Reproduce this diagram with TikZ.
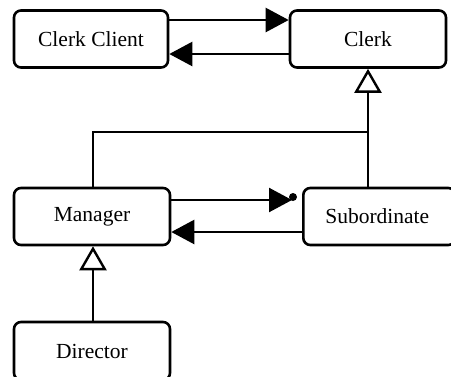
\documentclass[tikz,border=0pt]{standalone}
\usepackage{fontspec}
\setmainfont{Liberation Serif}
\usetikzlibrary{arrows.meta}
\begin{document}
\begin{tikzpicture}[x=1pt,y=-1pt,
  cls/.style={draw, line width=2.6pt, rounded corners=7pt, fill=white, inner sep=0pt,
    font=\fontsize{21.5}{25}\selectfont, minimum height=57pt},
  conn/.style={line width=2.4pt},
  usearrow/.style={conn, -{Triangle[length=23pt,width=24pt]}},
  inherit/.style={conn, -{Triangle[open,length=24pt,width=27pt,line width=2.4pt,fill=white]}}]
\useasboundingbox (0,0) rectangle (451,376);
\node[cls, minimum width=154pt] (cc) at (91,39) {Clerk Client};
\node[cls, minimum width=156pt] (clerk) at (368,39) {Clerk};
\node[cls, minimum width=156pt] (mgr) at (92,216.5) {Manager};
\node[cls, minimum width=152pt, anchor=west] (sub) at (302,216.5) {\hspace*{-4pt}Subordinate};
\node[cls, minimum width=156pt, minimum height=58pt] (dir) at (92,351) {Director};
% Clerk Client <-> Clerk
\draw[usearrow] (cc.east |- 0,20) -- (clerk.west |- 0,20);
\draw[usearrow] (clerk.west |- 0,54) -- (cc.east |- 0,54);
% inheritance to Clerk
\coordinate (jr) at (368,132);
\coordinate (jl) at (93,132);
\draw[conn] (mgr.north -| jl) -- (jl) -- (jr);
\draw[inherit] (sub.north -| jr) -- (clerk.south -| jr);
% Manager <-> Subordinate
\coordinate (dot) at (293,197);
\draw[usearrow] (mgr.east |- 0,200) -- (292,200);
\fill (dot) circle (4pt);
\draw[usearrow] (sub.west |- 0,232) -- (mgr.east |- 0,232);
% Director inherits Manager
\draw[inherit] (dir.north -| jl) -- (mgr.south -| jl);
\end{tikzpicture}
\end{document}
